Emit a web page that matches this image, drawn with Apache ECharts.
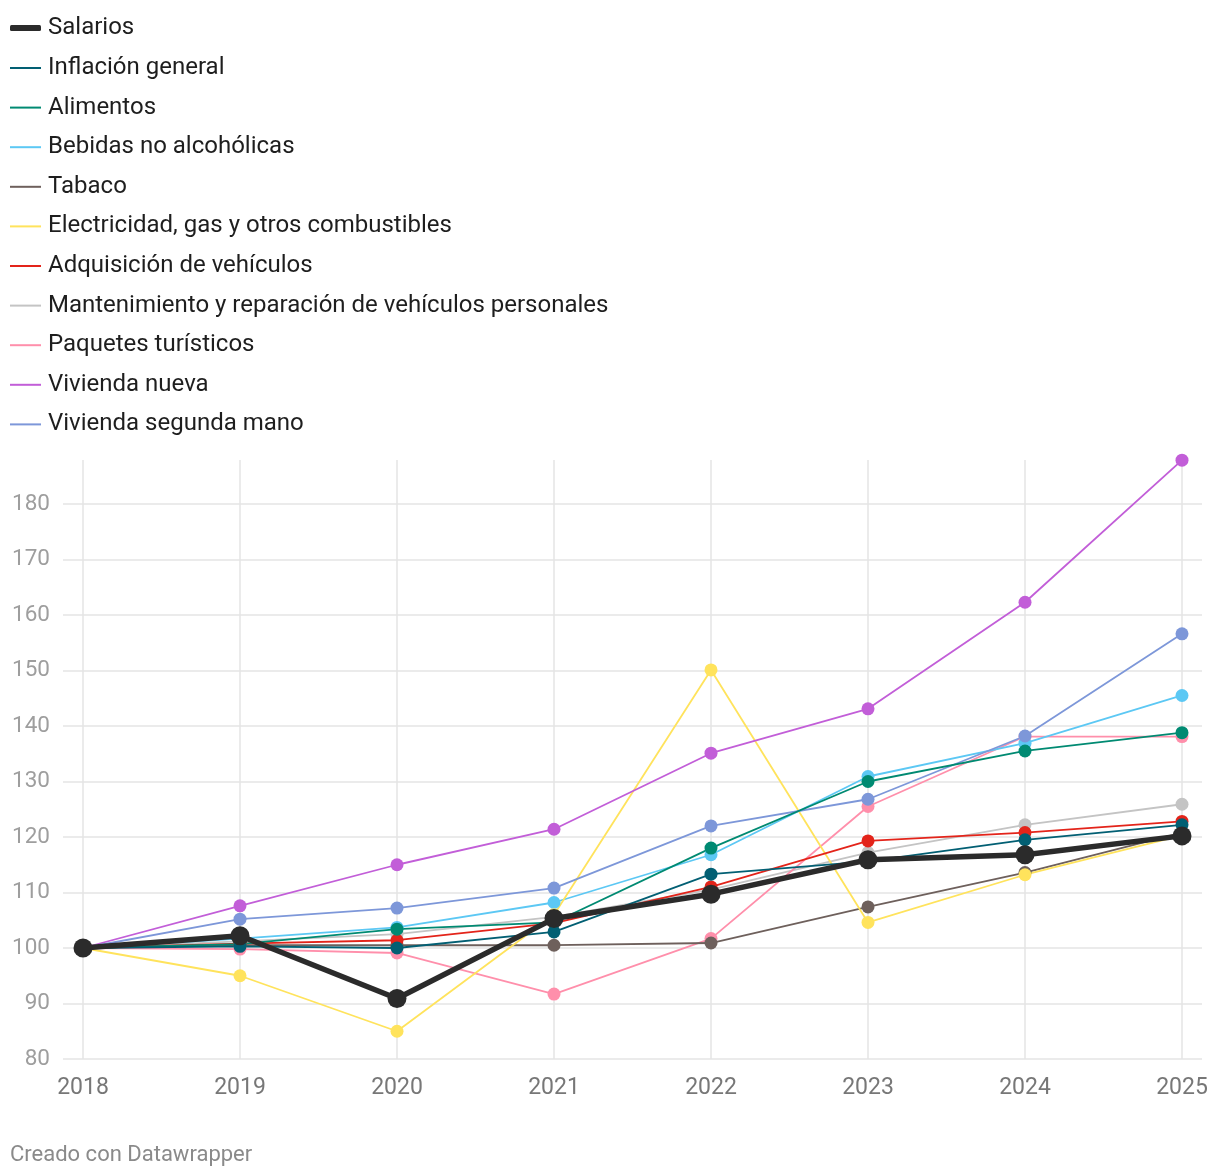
<!DOCTYPE html>
<html>
<head>
<meta charset="utf-8">
<script src="https://cdn.jsdelivr.net/npm/echarts@6/dist/echarts.min.js"></script>
<style>
html,body{margin:0;padding:0;background:#fff;}
#chart{width:1220px;height:1176px;}
</style>
</head>
<body>
<div id="chart"></div>
<script>
var years = ['2018','2019','2020','2021','2022','2023','2024','2025'];
var yTicks = [80, 180, 10];

var salarios        = [100, 102.2, 90.9, 105.3, 109.7, 115.9, 116.8, 120.2];
var inflacion       = [100, 100.3, 100.0, 102.9, 113.3, 115.6, 119.5, 122.2];
var alimentos       = [100, 100.7, 103.4, 104.6, 118.0, 130.0, 135.5, 138.8];
var bebidas         = [100, 101.7, 103.7, 108.2, 116.8, 130.9, 136.9, 145.5];
var tabaco          = [100, 100.5, 100.5, 100.5, 100.9, 107.4, 113.6, 120.8];
var electricidad    = [100, 95.0, 85.0, 106.0, 150.1, 104.6, 113.2, 120.3];
var adquisicion     = [100, 100.8, 101.4, 104.5, 111.0, 119.3, 120.8, 122.8];
var mantenimiento   = [100, 101.2, 102.5, 105.6, 110.5, 117.2, 122.2, 125.9];
var paquetes        = [100, 99.8, 99.1, 91.7, 101.7, 125.5, 138.1, 138.1];
var viviendaNueva   = [100, 107.6, 115.0, 121.4, 135.1, 143.1, 162.3, 187.9];
var viviendaSegunda = [100, 105.2, 107.2, 110.8, 122.0, 126.8, 138.2, 156.6];

var names = ['Salarios','Inflación general','Alimentos','Bebidas no alcohólicas','Tabaco',
  'Electricidad, gas y otros combustibles','Adquisición de vehículos',
  'Mantenimiento y reparación de vehículos personales','Paquetes turísticos',
  'Vivienda nueva','Vivienda segunda mano'];

var thin = [
  {name:'Mantenimiento y reparación de vehículos personales', data:mantenimiento, color:'#c4c4c4'},
  {name:'Paquetes turísticos', data:paquetes, color:'#ff8fab'},
  {name:'Bebidas no alcohólicas', data:bebidas, color:'#5cc8f4'},
  {name:'Tabaco', data:tabaco, color:'#6e605c'},
  {name:'Electricidad, gas y otros combustibles', data:electricidad, color:'#ffe35c'},
  {name:'Adquisición de vehículos', data:adquisicion, color:'#e3241a'},
  {name:'Vivienda nueva', data:viviendaNueva, color:'#c25ed8'},
  {name:'Vivienda segunda mano', data:viviendaSegunda, color:'#7d97d9'},
  {name:'Alimentos', data:alimentos, color:'#008a72'},
  {name:'Inflación general', data:inflacion, color:'#025f73'}
];

var FONT = 'Roboto';
var series = thin.map(function(s){
  return {
    name:s.name, type:'line', xAxisIndex:1, yAxisIndex:1, data:s.data,
    symbol:'circle', symbolSize:13, showSymbol:true,
    lineStyle:{width:1.8, color:s.color}, itemStyle:{color:s.color},
    emphasis:{disabled:true}, clip:false, z:2
  };
});
series.push({
  name:'Salarios', type:'line', xAxisIndex:1, yAxisIndex:1, data:salarios,
  symbol:'circle', symbolSize:19,
  lineStyle:{width:5.5, color:'#2b2b2b'}, itemStyle:{color:'#2b2b2b'},
  emphasis:{disabled:true}, clip:false, z:3
});

var legendText = {fontFamily:FONT, fontSize:24, color:'#1e1e1e', lineHeight:28, padding:[0,0,0,2]};
var chart = echarts.init(document.getElementById('chart'), null, {renderer:'canvas'});
chart.setOption({
  animation:false,
  backgroundColor:'#ffffff',
  textStyle:{fontFamily:FONT},
  legend:[
    {data:['Salarios'], orient:'vertical', left:10, top:14, padding:0, itemWidth:31, itemHeight:6,
     icon:'roundRect', selectedMode:false, textStyle:legendText},
    {data:names.slice(1), orient:'vertical', left:10, top:54, padding:0, itemWidth:31, itemHeight:2,
     icon:'rect', itemGap:11.6, selectedMode:false, textStyle:legendText}
  ],
  grid:[
    {left:63, right:18, top:504, bottom:117},
    {left:83, right:38, top:460, bottom:117}
  ],
  xAxis:[
    {type:'value', gridIndex:0, show:false, min:0, max:1},
    {type:'category', gridIndex:1, data:years, boundaryGap:false,
     axisLine:{show:false}, axisTick:{show:false},
     splitLine:{show:true, lineStyle:{color:'#e4e4e4', width:1.5}},
     axisLabel:{fontFamily:FONT, fontSize:23, color:'#777777', margin:18}}
  ],
  yAxis:[
    {type:'value', gridIndex:0, min:yTicks[0], max:yTicks[1], interval:yTicks[2],
     axisLine:{show:false}, axisTick:{show:false},
     splitLine:{show:true, lineStyle:{color:'#e4e4e4', width:1.5}},
     axisLabel:{fontFamily:FONT, fontSize:22.5, color:'#9e9e9e', margin:13}},
    {type:'value', gridIndex:1, min:yTicks[0], max:80 + 599/5.55, show:false,
     splitLine:{show:false}}
  ],
  graphic:[
    {type:'text', left:10, top:1144, style:{text:'Creado con Datawrapper', fontFamily:FONT, fontSize:22, fill:'#8a8a8a'}}
  ],
  series:series
});
</script>
</body>
</html>
